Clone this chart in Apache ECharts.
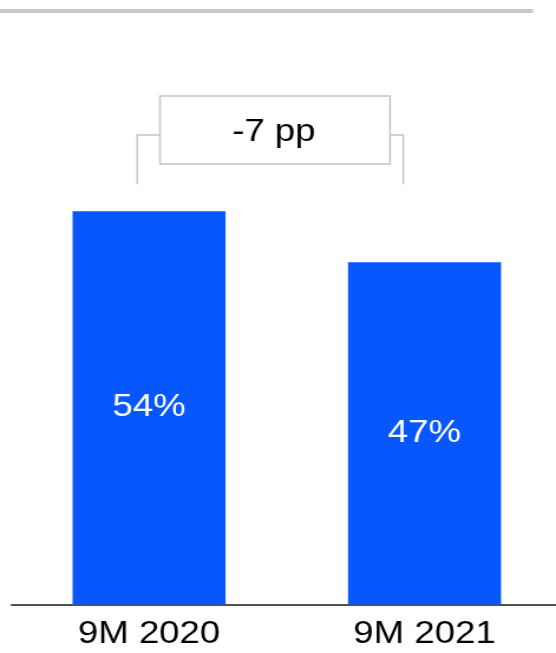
<!DOCTYPE html>
<html>
<head>
<meta charset="utf-8">
<script src="https://cdn.jsdelivr.net/npm/echarts@6/dist/echarts.min.js"></script>
<style>
  html, body { margin: 0; padding: 0; background: #ffffff; overflow: hidden; }
  /* slide artwork is drawn at a narrower width and stretched horizontally */
  #chart { width: 480px; height: 653px; transform: scaleX(1.1805); transform-origin: 0 0; }
</style>
</head>
<body>
<div id="chart"></div>
<script>
// Share by period (%)
const categories = ['9M 2020', '9M 2021'];
const shares = [54, 47];

const FONT = "'Liberation Sans', Arial, Helvetica, sans-serif";
const change = shares[1] - shares[0];
const changeText = (change > 0 ? '+' : '') + change + ' pp';

const chart = echarts.init(document.getElementById('chart'), null, { renderer: 'canvas' });

const bracketColor = '#c4c4c4';

chart.setOption({
  animation: false,
  backgroundColor: '#ffffff',
  grid: { left: 9.6, width: 466.7, top: 22, bottom: 48.5, containLabel: false },
  xAxis: {
    type: 'category',
    data: categories,
    axisLine: { show: true, lineStyle: { color: '#1a1a1a', width: 1.5 } },
    axisTick: { show: false },
    axisLabel: {
      color: '#000000',
      fontFamily: FONT,
      fontSize: 31,
      lineHeight: 31,
      margin: 14
    }
  },
  yAxis: {
    type: 'value',
    min: 0,
    max: 80,
    show: false,
    splitLine: { show: false }
  },
  series: [{
    type: 'bar',
    data: shares,
    barWidth: 129.6,
    itemStyle: { color: '#0857fc' },
    label: {
      show: true,
      position: 'inside',
      color: '#ffffff',
      fontFamily: FONT,
      fontSize: 31,
      formatter: p => p.value + '%'
    }
  }],
  graphic: [
    // header rule
    { type: 'rect', shape: { x: 0, y: 9, width: 451.5, height: 4 }, style: { fill: '#c8c8c8' }, silent: true },
    // change bracket
    { type: 'polyline', shape: { points: [[116.3, 184.3], [116.3, 135], [135.5, 135]] },
      style: { stroke: bracketColor, lineWidth: 1.5, fill: null }, silent: true },
    { type: 'polyline', shape: { points: [[330.4, 135], [341.6, 135], [341.6, 184.3]] },
      style: { stroke: bracketColor, lineWidth: 1.5, fill: null }, silent: true },
    { type: 'rect', shape: { x: 135.5, y: 96, width: 194.9, height: 68 },
      style: { stroke: bracketColor, lineWidth: 1.5, fill: '#ffffff' }, silent: true },
    { type: 'text', x: 232, y: 132,
      style: { text: changeText, fill: '#000000', font: '31px ' + FONT, textAlign: 'center', textVerticalAlign: 'middle' },
      silent: true }
  ]
});
</script>
</body>
</html>
